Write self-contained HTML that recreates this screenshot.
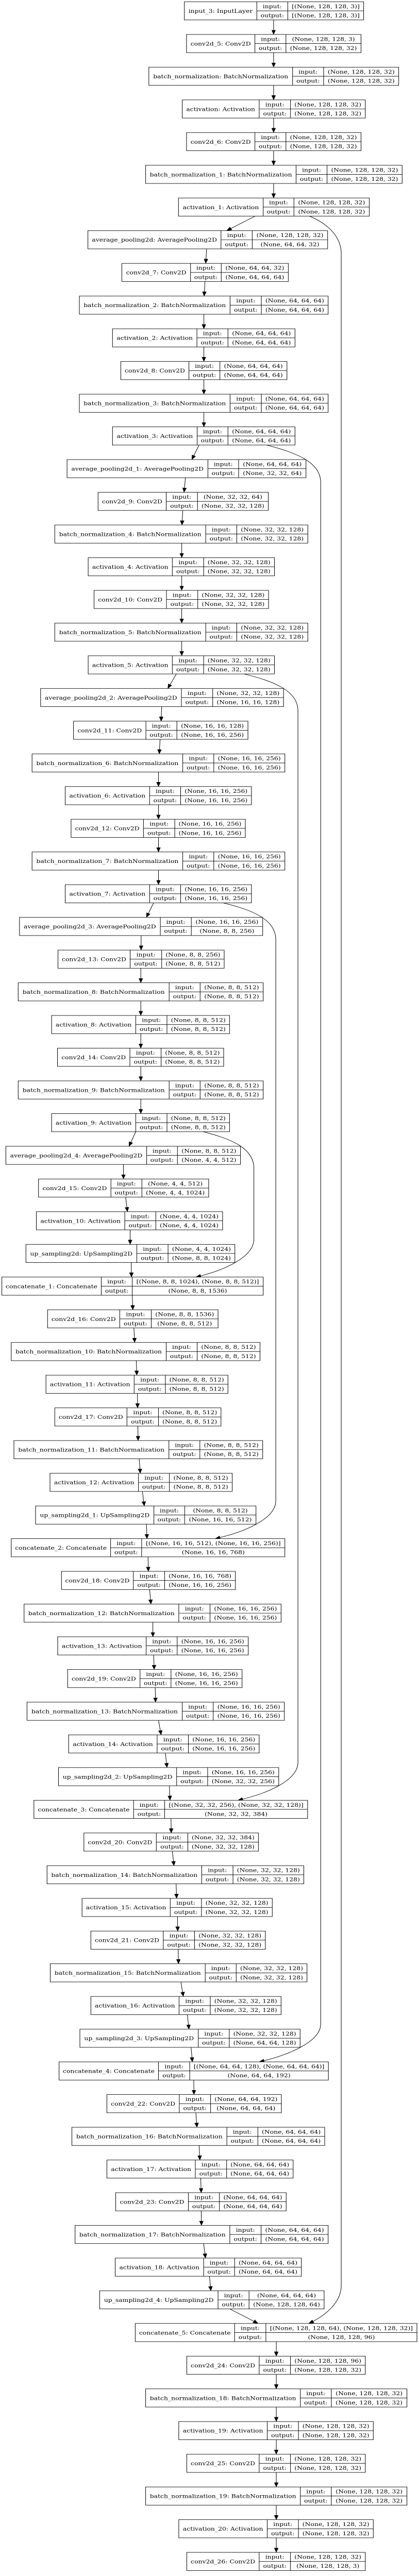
<!DOCTYPE html>
<html><head><meta charset="utf-8">
<style>
html,body{margin:0;padding:0;background:#fff;overflow:hidden;}
svg{display:block;}
rect{fill:#fff;stroke:#000;stroke-width:1;}
g path{fill:none;stroke:#000;stroke-width:1;}
text{font-family:"DejaVu Serif","Liberation Serif",serif;font-size:12.4px;text-anchor:middle;fill:#000;}
.e path{fill:none;stroke:#000;stroke-width:1;}
</style></head><body>
<svg width="813" height="4995" viewBox="0 0 813 5804" preserveAspectRatio="none" xmlns="http://www.w3.org/2000/svg">
<defs><marker id="ah" markerUnits="userSpaceOnUse" markerWidth="10" markerHeight="8" refX="10" refY="4" orient="auto"><path d="M0,0L10,4L0,8z" fill="#000" stroke="#000" stroke-width="0.5"/></marker></defs>

<g class="e">
<path d="M530.9 45L530.9 77.75" marker-end="url(#ah)"/>
<path d="M530.9 118.75L530.9 151.5" marker-end="url(#ah)"/>
<path d="M530.9 192.5L530.9 225.25" marker-end="url(#ah)"/>
<path d="M530.9 266.25L530.9 299" marker-end="url(#ah)"/>
<path d="M530.9 340L530.9 372.75" marker-end="url(#ah)"/>
<path d="M530.9 413.75L530.9 446.5" marker-end="url(#ah)"/>
<path d="M495.1 487.5L439.7 520.25" marker-end="url(#ah)"/>
<path d="M400.8 561.25L399.2 594" marker-end="url(#ah)"/>
<path d="M397.7 635L396.1 667.75" marker-end="url(#ah)"/>
<path d="M395.6 708.75L395.6 741.5" marker-end="url(#ah)"/>
<path d="M395.6 782.5L395.6 815.25" marker-end="url(#ah)"/>
<path d="M395.6 856.25L395.6 889" marker-end="url(#ah)"/>
<path d="M395.6 930L395.6 962.75" marker-end="url(#ah)"/>
<path d="M386.3 1003.75L372.3 1036.5" marker-end="url(#ah)"/>
<path d="M359.8 1077.5L357.2 1110.25" marker-end="url(#ah)"/>
<path d="M354.6 1151.25L353.1 1184" marker-end="url(#ah)"/>
<path d="M352.6 1225L352.6 1257.75" marker-end="url(#ah)"/>
<path d="M352.6 1298.75L352.6 1331.5" marker-end="url(#ah)"/>
<path d="M352.6 1372.5L352.6 1405.25" marker-end="url(#ah)"/>
<path d="M352.6 1446.25L352.6 1479" marker-end="url(#ah)"/>
<path d="M342.2 1520L325.6 1552.75" marker-end="url(#ah)"/>
<path d="M313.7 1593.75L312.6 1626.5" marker-end="url(#ah)"/>
<path d="M310.6 1667.5L309 1700.25" marker-end="url(#ah)"/>
<path d="M307.5 1741.25L307.5 1774" marker-end="url(#ah)"/>
<path d="M307.5 1815L307.5 1847.75" marker-end="url(#ah)"/>
<path d="M307.5 1888.75L307.5 1921.5" marker-end="url(#ah)"/>
<path d="M307.5 1962.5L307.5 1995.25" marker-end="url(#ah)"/>
<path d="M298.1 2036.25L284.1 2069" marker-end="url(#ah)"/>
<path d="M273.8 2110L273.8 2142.75" marker-end="url(#ah)"/>
<path d="M273.2 2183.75L273.2 2216.5" marker-end="url(#ah)"/>
<path d="M273.2 2257.5L273.2 2290.25" marker-end="url(#ah)"/>
<path d="M273.2 2331.25L273.2 2364" marker-end="url(#ah)"/>
<path d="M273.2 2405L273.2 2437.75" marker-end="url(#ah)"/>
<path d="M273.2 2478.75L273.2 2511.5" marker-end="url(#ah)"/>
<path d="M263.4 2552.5L250.4 2585.25" marker-end="url(#ah)"/>
<path d="M239.5 2626.25L239.5 2659" marker-end="url(#ah)"/>
<path d="M243.7 2700L247.3 2732.75" marker-end="url(#ah)"/>
<path d="M252.5 2773.75L252.5 2806.5" marker-end="url(#ah)"/>
<path d="M254.6 2847.5L255.1 2880.25" marker-end="url(#ah)"/>
<path d="M256.6 2921.25L257.7 2954" marker-end="url(#ah)"/>
<path d="M259.8 2995L261.3 3027.75" marker-end="url(#ah)"/>
<path d="M264.4 3068.75L265.5 3101.5" marker-end="url(#ah)"/>
<path d="M266.5 3142.5L267 3175.25" marker-end="url(#ah)"/>
<path d="M267.5 3216.25L268 3249" marker-end="url(#ah)"/>
<path d="M270.1 3290L272.2 3322.75" marker-end="url(#ah)"/>
<path d="M276.3 3363.75L280 3396.5" marker-end="url(#ah)"/>
<path d="M284.1 3437.5L285.2 3470.25" marker-end="url(#ah)"/>
<path d="M287.2 3511.25L287.8 3544" marker-end="url(#ah)"/>
<path d="M290.3 3585L292.9 3617.75" marker-end="url(#ah)"/>
<path d="M296.6 3658.75L296.6 3691.5" marker-end="url(#ah)"/>
<path d="M298.1 3732.5L299.2 3765.25" marker-end="url(#ah)"/>
<path d="M301.2 3806.25L301.8 3839" marker-end="url(#ah)"/>
<path d="M307.5 3880L312.6 3912.75" marker-end="url(#ah)"/>
<path d="M320.9 3953.75L324 3986.5" marker-end="url(#ah)"/>
<path d="M328.7 4027.5L329.8 4060.25" marker-end="url(#ah)"/>
<path d="M331.8 4101.25L332.3 4134" marker-end="url(#ah)"/>
<path d="M334.4 4175L337.5 4207.75" marker-end="url(#ah)"/>
<path d="M341.7 4248.75L342.7 4281.5" marker-end="url(#ah)"/>
<path d="M344.3 4322.5L344.8 4355.25" marker-end="url(#ah)"/>
<path d="M345.8 4396.25L346.3 4429" marker-end="url(#ah)"/>
<path d="M351 4470L355.7 4502.75" marker-end="url(#ah)"/>
<path d="M363.5 4543.75L366.6 4576.5" marker-end="url(#ah)"/>
<path d="M370.7 4617.5L373.3 4650.25" marker-end="url(#ah)"/>
<path d="M375.9 4691.25L376.4 4724" marker-end="url(#ah)"/>
<path d="M380 4765L382.1 4797.75" marker-end="url(#ah)"/>
<path d="M386.3 4838.75L387.8 4871.5" marker-end="url(#ah)"/>
<path d="M389.4 4912.5L390.4 4945.25" marker-end="url(#ah)"/>
<path d="M390.4 4986.25L390.9 5019" marker-end="url(#ah)"/>
<path d="M395.1 5060L398.7 5092.75" marker-end="url(#ah)"/>
<path d="M406.5 5133.75L409.1 5166.5" marker-end="url(#ah)"/>
<path d="M445.9 5207.5L500.9 5240.25" marker-end="url(#ah)"/>
<path d="M536.1 5281.25L536.1 5314" marker-end="url(#ah)"/>
<path d="M536.1 5355L536.1 5387.75" marker-end="url(#ah)"/>
<path d="M536.1 5428.75L536.1 5461.5" marker-end="url(#ah)"/>
<path d="M536.1 5502.5L536.1 5535.25" marker-end="url(#ah)"/>
<path d="M536.1 5576.25L536.1 5609" marker-end="url(#ah)"/>
<path d="M536.1 5650L536.1 5682.75" marker-end="url(#ah)"/>
<path d="M536.1 5723.75L536.1 5756.5" marker-end="url(#ah)"/>
<path d="M600.4 487.5C631 502 662.1 530 662.1 572L662.1 5155C662.1 5195 628 5225 598.9 5240.25" marker-end="url(#ah)"/>
<path d="M517.4 1003.75C570 1020 622.2 1040 622.2 1088L622.2 4565C622.2 4605 560 4635 502.9 4650.25" marker-end="url(#ah)"/>
<path d="M473.4 1520C525 1535 578.1 1555 578.1 1603L578.1 3975C578.1 4015 520 4045 461.4 4060.25" marker-end="url(#ah)"/>
<path d="M432.9 2036.25C484 2051 535.1 2071 535.1 2119L535.1 3385C535.1 3425 476 3455 417.4 3470.25" marker-end="url(#ah)"/>
<path d="M394 2552.5C443 2567 492.6 2587 492.6 2635L492.6 2795C492.6 2835 436 2865 380 2880.25" marker-end="url(#ah)"/>
</g>

<g transform="translate(357.7,4)"><rect width="347.9" height="41"/><path d="M140.6 0V41M200.7 0V41M140.6 20.5H347.9"/><text x="70.3" y="25">input_3: InputLayer</text><text x="170.6" y="14.5">input:</text><text x="170.6" y="35">output:</text><text x="274.3" y="14.5">[(None, 128, 128, 3)]</text><text x="274.3" y="35">[(None, 128, 128, 3)]</text></g>
<g transform="translate(361.9,77.75)"><rect width="338.6" height="41"/><path d="M132.7 0V41M192.9 0V41M132.7 20.5H338.6"/><text x="66.3" y="25">conv2d_5: Conv2D</text><text x="162.8" y="14.5">input:</text><text x="162.8" y="35">output:</text><text x="265.7" y="14.5">(None, 128, 128, 3)</text><text x="265.7" y="35">(None, 128, 128, 32)</text></g>
<g transform="translate(288.8,151.5)"><rect width="484.8" height="41"/><path d="M278.9 0V41M339.1 0V41M278.9 20.5H484.8"/><text x="139.4" y="25">batch_normalization: BatchNormalization</text><text x="309" y="14.5">input:</text><text x="309" y="35">output:</text><text x="412" y="14.5">(None, 128, 128, 32)</text><text x="412" y="35">(None, 128, 128, 32)</text></g>
<g transform="translate(353.6,225.25)"><rect width="355.2" height="41"/><path d="M149.3 0V41M210 0V41M149.3 20.5H355.2"/><text x="74.6" y="25">activation: Activation</text><text x="179.6" y="14.5">input:</text><text x="179.6" y="35">output:</text><text x="282.6" y="14.5">(None, 128, 128, 32)</text><text x="282.6" y="35">(None, 128, 128, 32)</text></g>
<g transform="translate(361.9,299)"><rect width="338.6" height="41"/><path d="M132.7 0V41M192.9 0V41M132.7 20.5H338.6"/><text x="66.3" y="25">conv2d_6: Conv2D</text><text x="162.8" y="14.5">input:</text><text x="162.8" y="35">output:</text><text x="265.7" y="14.5">(None, 128, 128, 32)</text><text x="265.7" y="35">(None, 128, 128, 32)</text></g>
<g transform="translate(282.6,372.75)"><rect width="497.7" height="41"/><path d="M291.9 0V41M352 0V41M291.9 20.5H497.7"/><text x="146" y="25">batch_normalization_1: BatchNormalization</text><text x="322" y="14.5">input:</text><text x="322" y="35">output:</text><text x="424.8" y="14.5">(None, 128, 128, 32)</text><text x="424.8" y="35">(None, 128, 128, 32)</text></g>
<g transform="translate(346.3,446.5)"><rect width="370.2" height="41"/><path d="M164.4 0V41M224 0V41M164.4 20.5H370.2"/><text x="82.2" y="25">activation_1: Activation</text><text x="194.2" y="14.5">input:</text><text x="194.2" y="35">output:</text><text x="297.1" y="14.5">(None, 128, 128, 32)</text><text x="297.1" y="35">(None, 128, 128, 32)</text></g>
<g transform="translate(170.6,520.25)"><rect width="465.1" height="41"/><path d="M258.2 0V41M318.8 0V41M258.2 20.5H465.1"/><text x="129.1" y="25">average_pooling2d: AveragePooling2D</text><text x="288.5" y="14.5">input:</text><text x="288.5" y="35">output:</text><text x="392" y="14.5">(None, 128, 128, 32)</text><text x="392" y="35">(None, 64, 64, 32)</text></g>
<g transform="translate(236.4,594)"><rect width="323" height="41"/><path d="M133.3 0V41M192.9 0V41M133.3 20.5H323"/><text x="66.7" y="25">conv2d_7: Conv2D</text><text x="163.1" y="14.5">input:</text><text x="163.1" y="35">output:</text><text x="258" y="14.5">(None, 64, 64, 32)</text><text x="258" y="35">(None, 64, 64, 64)</text></g>
<g transform="translate(154,667.75)"><rect width="482.7" height="41"/><path d="M292.4 0V41M353.1 0V41M292.4 20.5H482.7"/><text x="146.2" y="25">batch_normalization_2: BatchNormalization</text><text x="322.8" y="14.5">input:</text><text x="322.8" y="35">output:</text><text x="417.9" y="14.5">(None, 64, 64, 64)</text><text x="417.9" y="35">(None, 64, 64, 64)</text></g>
<g transform="translate(218.3,741.5)"><rect width="354.1" height="41"/><path d="M163.8 0V41M224 0V41M163.8 20.5H354.1"/><text x="81.9" y="25">activation_2: Activation</text><text x="193.9" y="14.5">input:</text><text x="193.9" y="35">output:</text><text x="289" y="14.5">(None, 64, 64, 64)</text><text x="289" y="35">(None, 64, 64, 64)</text></g>
<g transform="translate(234.4,815.25)"><rect width="322.4" height="41"/><path d="M132.2 0V41M192.3 0V41M132.2 20.5H322.4"/><text x="66.1" y="25">conv2d_8: Conv2D</text><text x="162.2" y="14.5">input:</text><text x="162.2" y="35">output:</text><text x="257.3" y="14.5">(None, 64, 64, 64)</text><text x="257.3" y="35">(None, 64, 64, 64)</text></g>
<g transform="translate(154,889)"><rect width="482.7" height="41"/><path d="M292.4 0V41M353.1 0V41M292.4 20.5H482.7"/><text x="146.2" y="25">batch_normalization_3: BatchNormalization</text><text x="322.8" y="14.5">input:</text><text x="322.8" y="35">output:</text><text x="417.9" y="14.5">(None, 64, 64, 64)</text><text x="417.9" y="35">(None, 64, 64, 64)</text></g>
<g transform="translate(218.3,962.75)"><rect width="354.1" height="41"/><path d="M164.3 0V41M224 0V41M164.3 20.5H354.1"/><text x="82.1" y="25">activation_3: Activation</text><text x="194.1" y="14.5">input:</text><text x="194.1" y="35">output:</text><text x="289" y="14.5">(None, 64, 64, 64)</text><text x="289" y="35">(None, 64, 64, 64)</text></g>
<g transform="translate(130.1,1036.5)"><rect width="463.6" height="41"/><path d="M273.3 0V41M332.9 0V41M273.3 20.5H463.6"/><text x="136.6" y="25">average_pooling2d_1: AveragePooling2D</text><text x="303.1" y="14.5">input:</text><text x="303.1" y="35">output:</text><text x="398.2" y="14.5">(None, 64, 64, 64)</text><text x="398.2" y="35">(None, 32, 32, 64)</text></g>
<g transform="translate(190.3,1110.25)"><rect width="330.3" height="41"/><path d="M132.2 0V41M192.9 0V41M132.2 20.5H330.3"/><text x="66.1" y="25">conv2d_9: Conv2D</text><text x="162.5" y="14.5">input:</text><text x="162.5" y="35">output:</text><text x="261.6" y="14.5">(None, 32, 32, 64)</text><text x="261.6" y="35">(None, 32, 32, 128)</text></g>
<g transform="translate(106.3,1184)"><rect width="491" height="41"/><path d="M292.9 0V41M353.1 0V41M292.9 20.5H491"/><text x="146.4" y="25">batch_normalization_4: BatchNormalization</text><text x="323" y="14.5">input:</text><text x="323" y="35">output:</text><text x="422" y="14.5">(None, 32, 32, 128)</text><text x="422" y="35">(None, 32, 32, 128)</text></g>
<g transform="translate(171.1,1257.75)"><rect width="361.4" height="41"/><path d="M163.3 0V41M224 0V41M163.3 20.5H361.4"/><text x="81.6" y="25">activation_4: Activation</text><text x="193.6" y="14.5">input:</text><text x="193.6" y="35">output:</text><text x="292.7" y="14.5">(None, 32, 32, 128)</text><text x="292.7" y="35">(None, 32, 32, 128)</text></g>
<g transform="translate(182.5,1331.5)"><rect width="338.6" height="41"/><path d="M140.5 0V41M201.2 0V41M140.5 20.5H338.6"/><text x="70.2" y="25">conv2d_10: Conv2D</text><text x="170.8" y="14.5">input:</text><text x="170.8" y="35">output:</text><text x="269.9" y="14.5">(None, 32, 32, 128)</text><text x="269.9" y="35">(None, 32, 32, 128)</text></g>
<g transform="translate(106.3,1405.25)"><rect width="491" height="41"/><path d="M292.9 0V41M353.1 0V41M292.9 20.5H491"/><text x="146.4" y="25">batch_normalization_5: BatchNormalization</text><text x="323" y="14.5">input:</text><text x="323" y="35">output:</text><text x="422" y="14.5">(None, 32, 32, 128)</text><text x="422" y="35">(None, 32, 32, 128)</text></g>
<g transform="translate(171.1,1479)"><rect width="361.4" height="41"/><path d="M163.3 0V41M224 0V41M163.3 20.5H361.4"/><text x="81.6" y="25">activation_5: Activation</text><text x="193.6" y="14.5">input:</text><text x="193.6" y="35">output:</text><text x="292.7" y="14.5">(None, 32, 32, 128)</text><text x="292.7" y="35">(None, 32, 32, 128)</text></g>
<g transform="translate(78.8,1552.75)"><rect width="471.3" height="41"/><path d="M273.2 0V41M333.9 0V41M273.2 20.5H471.3"/><text x="136.6" y="25">average_pooling2d_2: AveragePooling2D</text><text x="303.5" y="14.5">input:</text><text x="303.5" y="35">output:</text><text x="402.6" y="14.5">(None, 32, 32, 128)</text><text x="402.6" y="35">(None, 16, 16, 128)</text></g>
<g transform="translate(142.6,1626.5)"><rect width="338.5" height="41"/><path d="M140.5 0V41M200.6 0V41M140.5 20.5H338.5"/><text x="70.2" y="25">conv2d_11: Conv2D</text><text x="170.5" y="14.5">input:</text><text x="170.5" y="35">output:</text><text x="269.5" y="14.5">(None, 16, 16, 128)</text><text x="269.5" y="35">(None, 16, 16, 256)</text></g>
<g transform="translate(62.2,1700.25)"><rect width="490.5" height="41"/><path d="M292.4 0V41M352.6 0V41M292.4 20.5H490.5"/><text x="146.2" y="25">batch_normalization_6: BatchNormalization</text><text x="322.5" y="14.5">input:</text><text x="322.5" y="35">output:</text><text x="421.5" y="14.5">(None, 16, 16, 256)</text><text x="421.5" y="35">(None, 16, 16, 256)</text></g>
<g transform="translate(126.5,1774)"><rect width="361.4" height="41"/><path d="M163.8 0V41M224 0V41M163.8 20.5H361.4"/><text x="81.9" y="25">activation_6: Activation</text><text x="193.9" y="14.5">input:</text><text x="193.9" y="35">output:</text><text x="292.7" y="14.5">(None, 16, 16, 256)</text><text x="292.7" y="35">(None, 16, 16, 256)</text></g>
<g transform="translate(137.9,1847.75)"><rect width="338.1" height="41"/><path d="M140.5 0V41M201.2 0V41M140.5 20.5H338.1"/><text x="70.2" y="25">conv2d_12: Conv2D</text><text x="170.8" y="14.5">input:</text><text x="170.8" y="35">output:</text><text x="269.6" y="14.5">(None, 16, 16, 256)</text><text x="269.6" y="35">(None, 16, 16, 256)</text></g>
<g transform="translate(62.2,1921.5)"><rect width="490.5" height="41"/><path d="M292.4 0V41M352.6 0V41M292.4 20.5H490.5"/><text x="146.2" y="25">batch_normalization_7: BatchNormalization</text><text x="322.5" y="14.5">input:</text><text x="322.5" y="35">output:</text><text x="421.5" y="14.5">(None, 16, 16, 256)</text><text x="421.5" y="35">(None, 16, 16, 256)</text></g>
<g transform="translate(126.5,1995.25)"><rect width="361.4" height="41"/><path d="M163.8 0V41M224 0V41M163.8 20.5H361.4"/><text x="81.9" y="25">activation_7: Activation</text><text x="193.9" y="14.5">input:</text><text x="193.9" y="35">output:</text><text x="292.7" y="14.5">(None, 16, 16, 256)</text><text x="292.7" y="35">(None, 16, 16, 256)</text></g>
<g transform="translate(37.8,2069)"><rect width="471.9" height="41"/><path d="M273.3 0V41M333.4 0V41M273.3 20.5H471.9"/><text x="136.6" y="25">average_pooling2d_3: AveragePooling2D</text><text x="303.3" y="14.5">input:</text><text x="303.3" y="35">output:</text><text x="402.6" y="14.5">(None, 16, 16, 256)</text><text x="402.6" y="35">(None, 8, 8, 256)</text></g>
<g transform="translate(112.5,2142.75)"><rect width="322.5" height="41"/><path d="M140 0V41M201.2 0V41M140 20.5H322.5"/><text x="70" y="25">conv2d_13: Conv2D</text><text x="170.6" y="14.5">input:</text><text x="170.6" y="35">output:</text><text x="261.8" y="14.5">(None, 8, 8, 256)</text><text x="261.8" y="35">(None, 8, 8, 512)</text></g>
<g transform="translate(35.3,2216.5)"><rect width="475.4" height="41"/><path d="M292.9 0V41M353 0V41M292.9 20.5H475.4"/><text x="146.4" y="25">batch_normalization_8: BatchNormalization</text><text x="323" y="14.5">input:</text><text x="323" y="35">output:</text><text x="414.2" y="14.5">(None, 8, 8, 512)</text><text x="414.2" y="35">(None, 8, 8, 512)</text></g>
<g transform="translate(100.1,2290.25)"><rect width="345.3" height="41"/><path d="M163.3 0V41M223.9 0V41M163.3 20.5H345.3"/><text x="81.6" y="25">activation_8: Activation</text><text x="193.6" y="14.5">input:</text><text x="193.6" y="35">output:</text><text x="284.6" y="14.5">(None, 8, 8, 512)</text><text x="284.6" y="35">(None, 8, 8, 512)</text></g>
<g transform="translate(111.5,2364)"><rect width="322.5" height="41"/><path d="M140.5 0V41M201.1 0V41M140.5 20.5H322.5"/><text x="70.2" y="25">conv2d_14: Conv2D</text><text x="170.8" y="14.5">input:</text><text x="170.8" y="35">output:</text><text x="261.8" y="14.5">(None, 8, 8, 512)</text><text x="261.8" y="35">(None, 8, 8, 512)</text></g>
<g transform="translate(35.3,2437.75)"><rect width="475.4" height="41"/><path d="M292.9 0V41M353 0V41M292.9 20.5H475.4"/><text x="146.4" y="25">batch_normalization_9: BatchNormalization</text><text x="323" y="14.5">input:</text><text x="323" y="35">output:</text><text x="414.2" y="14.5">(None, 8, 8, 512)</text><text x="414.2" y="35">(None, 8, 8, 512)</text></g>
<g transform="translate(100.1,2511.5)"><rect width="345.3" height="41"/><path d="M163.3 0V41M223.9 0V41M163.3 20.5H345.3"/><text x="81.6" y="25">activation_9: Activation</text><text x="193.6" y="14.5">input:</text><text x="193.6" y="35">output:</text><text x="284.6" y="14.5">(None, 8, 8, 512)</text><text x="284.6" y="35">(None, 8, 8, 512)</text></g>
<g transform="translate(11.4,2585.25)"><rect width="455.2" height="41"/><path d="M273.2 0V41M332.9 0V41M273.2 20.5H455.2"/><text x="136.6" y="25">average_pooling2d_4: AveragePooling2D</text><text x="303" y="14.5">input:</text><text x="303" y="35">output:</text><text x="394" y="14.5">(None, 8, 8, 512)</text><text x="394" y="35">(None, 4, 4, 512)</text></g>
<g transform="translate(74.7,2659)"><rect width="330.2" height="41"/><path d="M140.5 0V41M200.6 0V41M140.5 20.5H330.2"/><text x="70.2" y="25">conv2d_15: Conv2D</text><text x="170.5" y="14.5">input:</text><text x="170.5" y="35">output:</text><text x="265.4" y="14.5">(None, 4, 4, 512)</text><text x="265.4" y="35">(None, 4, 4, 1024)</text></g>
<g transform="translate(70.5,2732.75)"><rect width="361.4" height="41"/><path d="M171.6 0V41M231.8 0V41M171.6 20.5H361.4"/><text x="85.8" y="25">activation_10: Activation</text><text x="201.7" y="14.5">input:</text><text x="201.7" y="35">output:</text><text x="296.6" y="14.5">(None, 4, 4, 1024)</text><text x="296.6" y="35">(None, 4, 4, 1024)</text></g>
<g transform="translate(50.3,2806.5)"><rect width="405.4" height="41"/><path d="M215.2 0V41M275.8 0V41M215.2 20.5H405.4"/><text x="107.6" y="25">up_sampling2d: UpSampling2D</text><text x="245.5" y="14.5">input:</text><text x="245.5" y="35">output:</text><text x="340.6" y="14.5">(None, 4, 4, 1024)</text><text x="340.6" y="35">(None, 8, 8, 1024)</text></g>
<g transform="translate(3.6,2880.25)"><rect width="507.1" height="41"/><path d="M192.9 0V41M253 0V41M192.9 20.5H507.1"/><text x="96.4" y="25">concatenate_1: Concatenate</text><text x="223" y="14.5">input:</text><text x="223" y="35">output:</text><text x="380" y="14.5">[(None, 8, 8, 1024), (None, 8, 8, 512)]</text><text x="380" y="35">(None, 8, 8, 1536)</text></g>
<g transform="translate(92.3,2954)"><rect width="330.8" height="41"/><path d="M140 0V41M201.2 0V41M140 20.5H330.8"/><text x="70" y="25">conv2d_16: Conv2D</text><text x="170.6" y="14.5">input:</text><text x="170.6" y="35">output:</text><text x="266" y="14.5">(None, 8, 8, 1536)</text><text x="266" y="35">(None, 8, 8, 512)</text></g>
<g transform="translate(21.8,3027.75)"><rect width="482.7" height="41"/><path d="M300.7 0V41M360.8 0V41M300.7 20.5H482.7"/><text x="150.3" y="25">batch_normalization_10: BatchNormalization</text><text x="330.7" y="14.5">input:</text><text x="330.7" y="35">output:</text><text x="421.7" y="14.5">(None, 8, 8, 512)</text><text x="421.7" y="35">(None, 8, 8, 512)</text></g>
<g transform="translate(89.2,3101.5)"><rect width="353.1" height="41"/><path d="M171.1 0V41M231.7 0V41M171.1 20.5H353.1"/><text x="85.5" y="25">activation_11: Activation</text><text x="201.4" y="14.5">input:</text><text x="201.4" y="35">output:</text><text x="292.4" y="14.5">(None, 8, 8, 512)</text><text x="292.4" y="35">(None, 8, 8, 512)</text></g>
<g transform="translate(106.3,3175.25)"><rect width="322.5" height="41"/><path d="M140 0V41M201.2 0V41M140 20.5H322.5"/><text x="70" y="25">conv2d_17: Conv2D</text><text x="170.6" y="14.5">input:</text><text x="170.6" y="35">output:</text><text x="261.8" y="14.5">(None, 8, 8, 512)</text><text x="261.8" y="35">(None, 8, 8, 512)</text></g>
<g transform="translate(27,3249)"><rect width="482.7" height="41"/><path d="M300.7 0V41M360.8 0V41M300.7 20.5H482.7"/><text x="150.3" y="25">batch_normalization_11: BatchNormalization</text><text x="330.7" y="14.5">input:</text><text x="330.7" y="35">output:</text><text x="421.7" y="14.5">(None, 8, 8, 512)</text><text x="421.7" y="35">(None, 8, 8, 512)</text></g>
<g transform="translate(97,3322.75)"><rect width="353.6" height="41"/><path d="M171.6 0V41M231.7 0V41M171.6 20.5H353.6"/><text x="85.8" y="25">activation_12: Activation</text><text x="201.6" y="14.5">input:</text><text x="201.6" y="35">output:</text><text x="292.6" y="14.5">(None, 8, 8, 512)</text><text x="292.6" y="35">(None, 8, 8, 512)</text></g>
<g transform="translate(69,3396.5)"><rect width="427.7" height="41"/><path d="M229.6 0V41M289.3 0V41M229.6 20.5H427.7"/><text x="114.8" y="25">up_sampling2d_1: UpSampling2D</text><text x="259.4" y="14.5">input:</text><text x="259.4" y="35">output:</text><text x="358.5" y="14.5">(None, 8, 8, 512)</text><text x="358.5" y="35">(None, 16, 16, 512)</text></g>
<g transform="translate(21.8,3470.25)"><rect width="530.9" height="41"/><path d="M192.8 0V41M253 0V41M192.8 20.5H530.9"/><text x="96.4" y="25">concatenate_2: Concatenate</text><text x="222.9" y="14.5">input:</text><text x="222.9" y="35">output:</text><text x="392" y="14.5">[(None, 16, 16, 512), (None, 16, 16, 256)]</text><text x="392" y="35">(None, 16, 16, 768)</text></g>
<g transform="translate(119.3,3544)"><rect width="337.5" height="41"/><path d="M139.4 0V41M200.1 0V41M139.4 20.5H337.5"/><text x="69.7" y="25">conv2d_18: Conv2D</text><text x="169.8" y="14.5">input:</text><text x="169.8" y="35">output:</text><text x="268.8" y="14.5">(None, 16, 16, 768)</text><text x="268.8" y="35">(None, 16, 16, 256)</text></g>
<g transform="translate(46.7,3617.75)"><rect width="498.7" height="41"/><path d="M300.2 0V41M360.8 0V41M300.2 20.5H498.7"/><text x="150.1" y="25">batch_normalization_12: BatchNormalization</text><text x="330.5" y="14.5">input:</text><text x="330.5" y="35">output:</text><text x="429.7" y="14.5">(None, 16, 16, 256)</text><text x="429.7" y="35">(None, 16, 16, 256)</text></g>
<g transform="translate(112,3691.5)"><rect width="369.7" height="41"/><path d="M171.6 0V41M231.8 0V41M171.6 20.5H369.7"/><text x="85.8" y="25">activation_13: Activation</text><text x="201.7" y="14.5">input:</text><text x="201.7" y="35">output:</text><text x="300.7" y="14.5">(None, 16, 16, 256)</text><text x="300.7" y="35">(None, 16, 16, 256)</text></g>
<g transform="translate(131.2,3765.25)"><rect width="338.5" height="41"/><path d="M140.5 0V41M200.6 0V41M140.5 20.5H338.5"/><text x="70.2" y="25">conv2d_19: Conv2D</text><text x="170.5" y="14.5">input:</text><text x="170.5" y="35">output:</text><text x="269.5" y="14.5">(None, 16, 16, 256)</text><text x="269.5" y="35">(None, 16, 16, 256)</text></g>
<g transform="translate(52.4,3839)"><rect width="499.3" height="41"/><path d="M301.2 0V41M361.3 0V41M301.2 20.5H499.3"/><text x="150.6" y="25">batch_normalization_13: BatchNormalization</text><text x="331.2" y="14.5">input:</text><text x="331.2" y="35">output:</text><text x="430.3" y="14.5">(None, 16, 16, 256)</text><text x="430.3" y="35">(None, 16, 16, 256)</text></g>
<g transform="translate(133.2,3912.75)"><rect width="369.7" height="41"/><path d="M171.7 0V41M232.3 0V41M171.7 20.5H369.7"/><text x="85.8" y="25">activation_14: Activation</text><text x="202" y="14.5">input:</text><text x="202" y="35">output:</text><text x="301" y="14.5">(None, 16, 16, 256)</text><text x="301" y="35">(None, 16, 16, 256)</text></g>
<g transform="translate(113.5,3986.5)"><rect width="427.3" height="41"/><path d="M229.2 0V41M289.4 0V41M229.2 20.5H427.3"/><text x="114.6" y="25">up_sampling2d_2: UpSampling2D</text><text x="259.3" y="14.5">input:</text><text x="259.3" y="35">output:</text><text x="358.3" y="14.5">(None, 16, 16, 256)</text><text x="358.3" y="35">(None, 32, 32, 256)</text></g>
<g transform="translate(65.8,4060.25)"><rect width="531" height="41"/><path d="M193.4 0V41M253.6 0V41M193.4 20.5H531"/><text x="96.7" y="25">concatenate_3: Concatenate</text><text x="223.5" y="14.5">input:</text><text x="223.5" y="35">output:</text><text x="392.3" y="14.5">[(None, 32, 32, 256), (None, 32, 32, 128)]</text><text x="392.3" y="35">(None, 32, 32, 384)</text></g>
<g transform="translate(162.8,4134)"><rect width="338.6" height="41"/><path d="M140.5 0V41M201.7 0V41M140.5 20.5H338.6"/><text x="70.2" y="25">conv2d_20: Conv2D</text><text x="171.1" y="14.5">input:</text><text x="171.1" y="35">output:</text><text x="270.1" y="14.5">(None, 32, 32, 384)</text><text x="270.1" y="35">(None, 32, 32, 128)</text></g>
<g transform="translate(91.3,4207.75)"><rect width="498.2" height="41"/><path d="M300.1 0V41M360.8 0V41M300.1 20.5H498.2"/><text x="150" y="25">batch_normalization_14: BatchNormalization</text><text x="330.4" y="14.5">input:</text><text x="330.4" y="35">output:</text><text x="429.5" y="14.5">(None, 32, 32, 128)</text><text x="429.5" y="35">(None, 32, 32, 128)</text></g>
<g transform="translate(159.2,4281.5)"><rect width="369.1" height="41"/><path d="M171.1 0V41M231.7 0V41M171.1 20.5H369.1"/><text x="85.5" y="25">activation_15: Activation</text><text x="201.4" y="14.5">input:</text><text x="201.4" y="35">output:</text><text x="300.4" y="14.5">(None, 32, 32, 128)</text><text x="300.4" y="35">(None, 32, 32, 128)</text></g>
<g transform="translate(176.3,4355.25)"><rect width="338.6" height="41"/><path d="M140.5 0V41M201.2 0V41M140.5 20.5H338.6"/><text x="70.2" y="25">conv2d_21: Conv2D</text><text x="170.8" y="14.5">input:</text><text x="170.8" y="35">output:</text><text x="269.9" y="14.5">(None, 32, 32, 128)</text><text x="269.9" y="35">(None, 32, 32, 128)</text></g>
<g transform="translate(97.5,4429)"><rect width="498.2" height="41"/><path d="M300.7 0V41M360.8 0V41M300.7 20.5H498.2"/><text x="150.3" y="25">batch_normalization_15: BatchNormalization</text><text x="330.7" y="14.5">input:</text><text x="330.7" y="35">output:</text><text x="429.5" y="14.5">(None, 32, 32, 128)</text><text x="429.5" y="35">(None, 32, 32, 128)</text></g>
<g transform="translate(176.3,4502.75)"><rect width="369.1" height="41"/><path d="M171.1 0V41M231.7 0V41M171.1 20.5H369.1"/><text x="85.5" y="25">activation_16: Activation</text><text x="201.4" y="14.5">input:</text><text x="201.4" y="35">output:</text><text x="300.4" y="14.5">(None, 32, 32, 128)</text><text x="300.4" y="35">(None, 32, 32, 128)</text></g>
<g transform="translate(155,4576.5)"><rect width="427.3" height="41"/><path d="M229.7 0V41M289.9 0V41M229.7 20.5H427.3"/><text x="114.8" y="25">up_sampling2d_3: UpSampling2D</text><text x="259.8" y="14.5">input:</text><text x="259.8" y="35">output:</text><text x="358.6" y="14.5">(None, 32, 32, 128)</text><text x="358.6" y="35">(None, 64, 64, 128)</text></g>
<g transform="translate(114.6,4650.25)"><rect width="522.6" height="41"/><path d="M192.9 0V41M253.5 0V41M192.9 20.5H522.6"/><text x="96.4" y="25">concatenate_4: Concatenate</text><text x="223.2" y="14.5">input:</text><text x="223.2" y="35">output:</text><text x="388" y="14.5">[(None, 64, 64, 128), (None, 64, 64, 64)]</text><text x="388" y="35">(None, 64, 64, 192)</text></g>
<g transform="translate(207.4,4724)"><rect width="338.6" height="41"/><path d="M140.5 0V41M201.2 0V41M140.5 20.5H338.6"/><text x="70.2" y="25">conv2d_22: Conv2D</text><text x="170.8" y="14.5">input:</text><text x="170.8" y="35">output:</text><text x="269.9" y="14.5">(None, 64, 64, 192)</text><text x="269.9" y="35">(None, 64, 64, 64)</text></g>
<g transform="translate(139.5,4797.75)"><rect width="490.5" height="41"/><path d="M300.7 0V41M360.8 0V41M300.7 20.5H490.5"/><text x="150.3" y="25">batch_normalization_16: BatchNormalization</text><text x="330.7" y="14.5">input:</text><text x="330.7" y="35">output:</text><text x="425.6" y="14.5">(None, 64, 64, 64)</text><text x="425.6" y="35">(None, 64, 64, 64)</text></g>
<g transform="translate(207.4,4871.5)"><rect width="361.4" height="41"/><path d="M171.6 0V41M232.3 0V41M171.6 20.5H361.4"/><text x="85.8" y="25">activation_17: Activation</text><text x="201.9" y="14.5">input:</text><text x="201.9" y="35">output:</text><text x="296.8" y="14.5">(None, 64, 64, 64)</text><text x="296.8" y="35">(None, 64, 64, 64)</text></g>
<g transform="translate(224.5,4945.25)"><rect width="330.8" height="41"/><path d="M141 0V41M201.2 0V41M141 20.5H330.8"/><text x="70.5" y="25">conv2d_23: Conv2D</text><text x="171.1" y="14.5">input:</text><text x="171.1" y="35">output:</text><text x="266" y="14.5">(None, 64, 64, 64)</text><text x="266" y="35">(None, 64, 64, 64)</text></g>
<g transform="translate(145.7,5019)"><rect width="491" height="41"/><path d="M300.2 0V41M360.9 0V41M300.2 20.5H491"/><text x="150.1" y="25">batch_normalization_17: BatchNormalization</text><text x="330.5" y="14.5">input:</text><text x="330.5" y="35">output:</text><text x="425.9" y="14.5">(None, 64, 64, 64)</text><text x="425.9" y="35">(None, 64, 64, 64)</text></g>
<g transform="translate(223.5,5092.75)"><rect width="361.3" height="41"/><path d="M171.6 0V41M231.7 0V41M171.6 20.5H361.3"/><text x="85.8" y="25">activation_18: Activation</text><text x="201.6" y="14.5">input:</text><text x="201.6" y="35">output:</text><text x="296.5" y="14.5">(None, 64, 64, 64)</text><text x="296.5" y="35">(None, 64, 64, 64)</text></g>
<g transform="translate(193.4,5166.5)"><rect width="435.5" height="41"/><path d="M229.7 0V41M289.8 0V41M229.7 20.5H435.5"/><text x="114.8" y="25">up_sampling2d_4: UpSampling2D</text><text x="259.7" y="14.5">input:</text><text x="259.7" y="35">output:</text><text x="362.6" y="14.5">(None, 64, 64, 64)</text><text x="362.6" y="35">(None, 128, 128, 64)</text></g>
<g transform="translate(262.4,5240.25)"><rect width="546.6" height="41"/><path d="M192.8 0V41M253.5 0V41M192.8 20.5H546.6"/><text x="96.4" y="25">concatenate_5: Concatenate</text><text x="223.1" y="14.5">input:</text><text x="223.1" y="35">output:</text><text x="400" y="14.5">[(None, 128, 128, 64), (None, 128, 128, 32)]</text><text x="400" y="35">(None, 128, 128, 96)</text></g>
<g transform="translate(362.4,5314)"><rect width="346.4" height="41"/><path d="M140.5 0V41M201.2 0V41M140.5 20.5H346.4"/><text x="70.2" y="25">conv2d_24: Conv2D</text><text x="170.8" y="14.5">input:</text><text x="170.8" y="35">output:</text><text x="273.8" y="14.5">(None, 128, 128, 96)</text><text x="273.8" y="35">(None, 128, 128, 32)</text></g>
<g transform="translate(282.6,5387.75)"><rect width="507" height="41"/><path d="M300.2 0V41M360.3 0V41M300.2 20.5H507"/><text x="150.1" y="25">batch_normalization_18: BatchNormalization</text><text x="330.2" y="14.5">input:</text><text x="330.2" y="35">output:</text><text x="433.6" y="14.5">(None, 128, 128, 32)</text><text x="433.6" y="35">(None, 128, 128, 32)</text></g>
<g transform="translate(346.9,5461.5)"><rect width="377.4" height="41"/><path d="M171.6 0V41M232.2 0V41M171.6 20.5H377.4"/><text x="85.8" y="25">activation_19: Activation</text><text x="201.9" y="14.5">input:</text><text x="201.9" y="35">output:</text><text x="304.8" y="14.5">(None, 128, 128, 32)</text><text x="304.8" y="35">(None, 128, 128, 32)</text></g>
<g transform="translate(362.4,5535.25)"><rect width="346.4" height="41"/><path d="M140.5 0V41M201.2 0V41M140.5 20.5H346.4"/><text x="70.2" y="25">conv2d_25: Conv2D</text><text x="170.8" y="14.5">input:</text><text x="170.8" y="35">output:</text><text x="273.8" y="14.5">(None, 128, 128, 32)</text><text x="273.8" y="35">(None, 128, 128, 32)</text></g>
<g transform="translate(282.6,5609)"><rect width="507" height="41"/><path d="M300.2 0V41M360.3 0V41M300.2 20.5H507"/><text x="150.1" y="25">batch_normalization_19: BatchNormalization</text><text x="330.2" y="14.5">input:</text><text x="330.2" y="35">output:</text><text x="433.6" y="14.5">(None, 128, 128, 32)</text><text x="433.6" y="35">(None, 128, 128, 32)</text></g>
<g transform="translate(346.9,5682.75)"><rect width="377.4" height="41"/><path d="M171.6 0V41M232.2 0V41M171.6 20.5H377.4"/><text x="85.8" y="25">activation_20: Activation</text><text x="201.9" y="14.5">input:</text><text x="201.9" y="35">output:</text><text x="304.8" y="14.5">(None, 128, 128, 32)</text><text x="304.8" y="35">(None, 128, 128, 32)</text></g>
<g transform="translate(362.4,5756.5)"><rect width="346.4" height="41"/><path d="M140.5 0V41M201.2 0V41M140.5 20.5H346.4"/><text x="70.2" y="25">conv2d_26: Conv2D</text><text x="170.8" y="14.5">input:</text><text x="170.8" y="35">output:</text><text x="273.8" y="14.5">(None, 128, 128, 32)</text><text x="273.8" y="35">(None, 128, 128, 3)</text></g>
</svg>
</body></html>
